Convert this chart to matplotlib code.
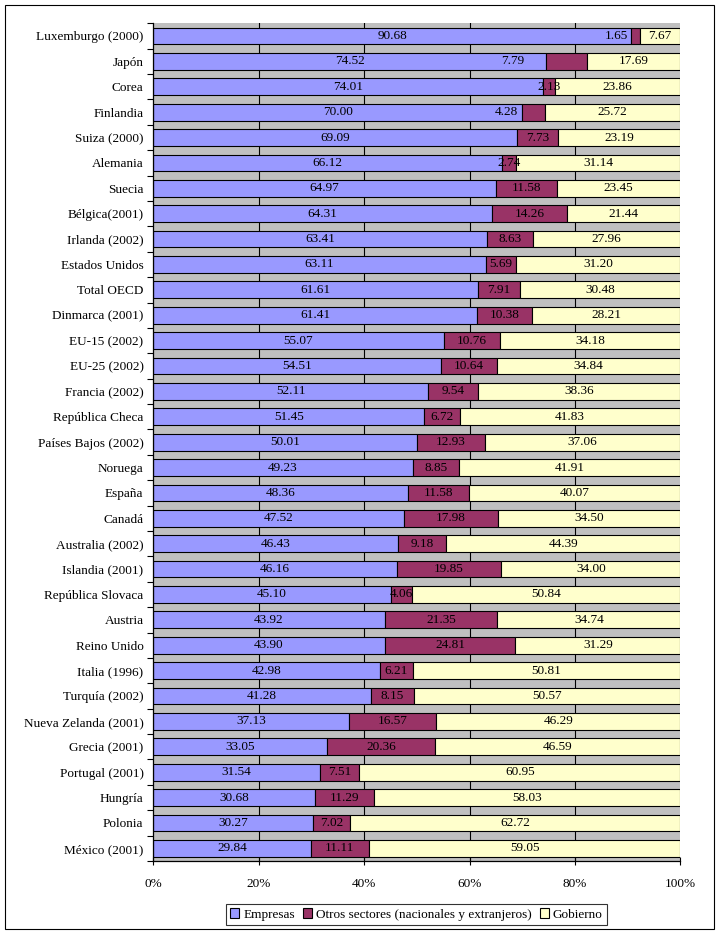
import matplotlib
matplotlib.use("Agg")
import matplotlib.pyplot as plt
from matplotlib.patches import Rectangle
import numpy as np

countries = ["Luxemburgo (2000)", "Japón", "Corea", "Finlandia", "Suiza (2000)",
             "Alemania", "Suecia", "Bélgica(2001)", "Irlanda (2002)", "Estados Unidos",
             "Total OECD", "Dinmarca (2001)", "EU-15 (2002)", "EU-25 (2002)",
             "Francia (2002)", "República Checa", "Países Bajos (2002)", "Noruega",
             "España", "Canadá", "Australia (2002)", "Islandia (2001)",
             "República Slovaca", "Austria", "Reino Unido", "Italia (1996)",
             "Turquía (2002)", "Nueva Zelanda (2001)", "Grecia (2001)",
             "Portugal (2001)", "Hungría", "Polonia", "México (2001)"]
empresas = [90.68, 74.52, 74.01, 70.00, 69.09, 66.12, 64.97, 64.31, 63.41, 63.11,
            61.61, 61.41, 55.07, 54.51, 52.11, 51.45, 50.01, 49.23, 48.36, 47.52,
            46.43, 46.16, 45.10, 43.92, 43.90, 42.98, 41.28, 37.13, 33.05, 31.54,
            30.68, 30.27, 29.84]
otros = [1.65, 7.79, 2.13, 4.28, 7.73, 2.74, 11.58, 14.26, 8.63, 5.69,
         7.91, 10.38, 10.76, 10.64, 9.54, 6.72, 12.93, 8.85, 11.58, 17.98,
         9.18, 19.85, 4.06, 21.35, 24.81, 6.21, 8.15, 16.57, 20.36, 7.51,
         11.29, 7.02, 11.11]
gobierno = [7.67, 17.69, 23.86, 25.72, 23.19, 31.14, 23.45, 21.44, 27.96, 31.20,
            30.48, 28.21, 34.18, 34.84, 38.36, 41.83, 37.06, 41.91, 40.07, 34.50,
            44.39, 34.00, 50.84, 34.74, 31.29, 50.81, 50.57, 46.29, 46.59, 60.95,
            58.03, 62.72, 59.05]
series_names = ["Empresas", "Otros sectores (nacionales y extranjeros)", "Gobierno"]
xtick_labels = ["0%", "20%", "40%", "60%", "80%", "100%"]

# label positions (in %) for a few misplaced labels of the middle series
otros_label_pos = {0: 87.8, 1: 68.2, 3: 67.0}

colors = ["#9999FF", "#993366", "#FFFFCC"]
FONT = "Liberation Serif"
FS = 9.5

fig = plt.figure(figsize=(7.19, 9.35), dpi=100)
ax = fig.add_axes([153.3 / 719, 74 / 935, 527 / 719, 837.7 / 935])
ax.set_facecolor("#C0C0C0")

y = np.arange(len(countries))
emp = np.array(empresas)
otr = np.array(otros)
gob = np.array(gobierno)
h = 0.66

for xv in [20, 40, 60, 80]:
    ax.axvline(xv, color="black", lw=0.8, zorder=1)

b1 = ax.barh(y, emp, height=h, color=colors[0], edgecolor="black", lw=0.8, zorder=2,
             label=series_names[0])
b2 = ax.barh(y, otr, left=emp, height=h, color=colors[1], edgecolor="black", lw=0.8,
             zorder=2, label=series_names[1])
b3 = ax.barh(y, gob, left=emp + otr, height=h, color=colors[2], edgecolor="black",
             lw=0.8, zorder=2, label=series_names[2])

for i in range(len(countries)):
    ax.text(emp[i] / 2, y[i], f"{emp[i]:.2f}", ha="center", va="center",
            fontsize=FS, family=FONT, zorder=3)
    xo = otros_label_pos.get(i, emp[i] + otr[i] / 2)
    ax.text(xo, y[i], f"{otr[i]:.2f}", ha="center", va="center",
            fontsize=FS, family=FONT, zorder=3)
    ax.text(emp[i] + otr[i] + gob[i] / 2, y[i], f"{gob[i]:.2f}", ha="center",
            va="center", fontsize=FS, family=FONT, zorder=3)

ax.set_xlim(0, 100)
ax.set_ylim(len(countries) - 0.5, -0.5)
ax.set_xticks([0, 20, 40, 60, 80, 100])
ax.set_xticklabels(xtick_labels, family=FONT, fontsize=FS)
ax.set_yticks(y)
ax.set_yticklabels(countries, family=FONT, fontsize=FS)
ax.set_yticks(np.arange(-0.5, len(countries)), minor=True)
ax.tick_params(axis="y", which="major", length=0, pad=7)
ax.tick_params(axis="y", which="minor", length=4, width=0.8, direction="out")
ax.tick_params(axis="x", which="major", length=6, width=0.8, direction="inout", pad=9)

for s in ["top", "right"]:
    ax.spines[s].set_visible(False)
for s in ["left", "bottom"]:
    ax.spines[s].set_linewidth(0.9)
    ax.spines[s].set_zorder(4)

leg = fig.legend(handles=[b1, b2, b3], labels=series_names, loc="center",
                 bbox_to_anchor=(416.5 / 719, (935 - 914.5) / 935), ncol=3,
                 prop={"family": FONT, "size": FS}, frameon=True, fancybox=False,
                 edgecolor="black", handlelength=0.7, handleheight=0.7,
                 handletextpad=0.3, columnspacing=0.6, borderpad=0.35,
                 borderaxespad=0)
leg.get_frame().set_linewidth(0.8)

fig.patches.append(Rectangle((5 / 719, 6 / 935), 709 / 719, 924 / 935,
                             transform=fig.transFigure, fill=False,
                             edgecolor="black", lw=0.8))

fig.savefig("out.png", dpi=100)
